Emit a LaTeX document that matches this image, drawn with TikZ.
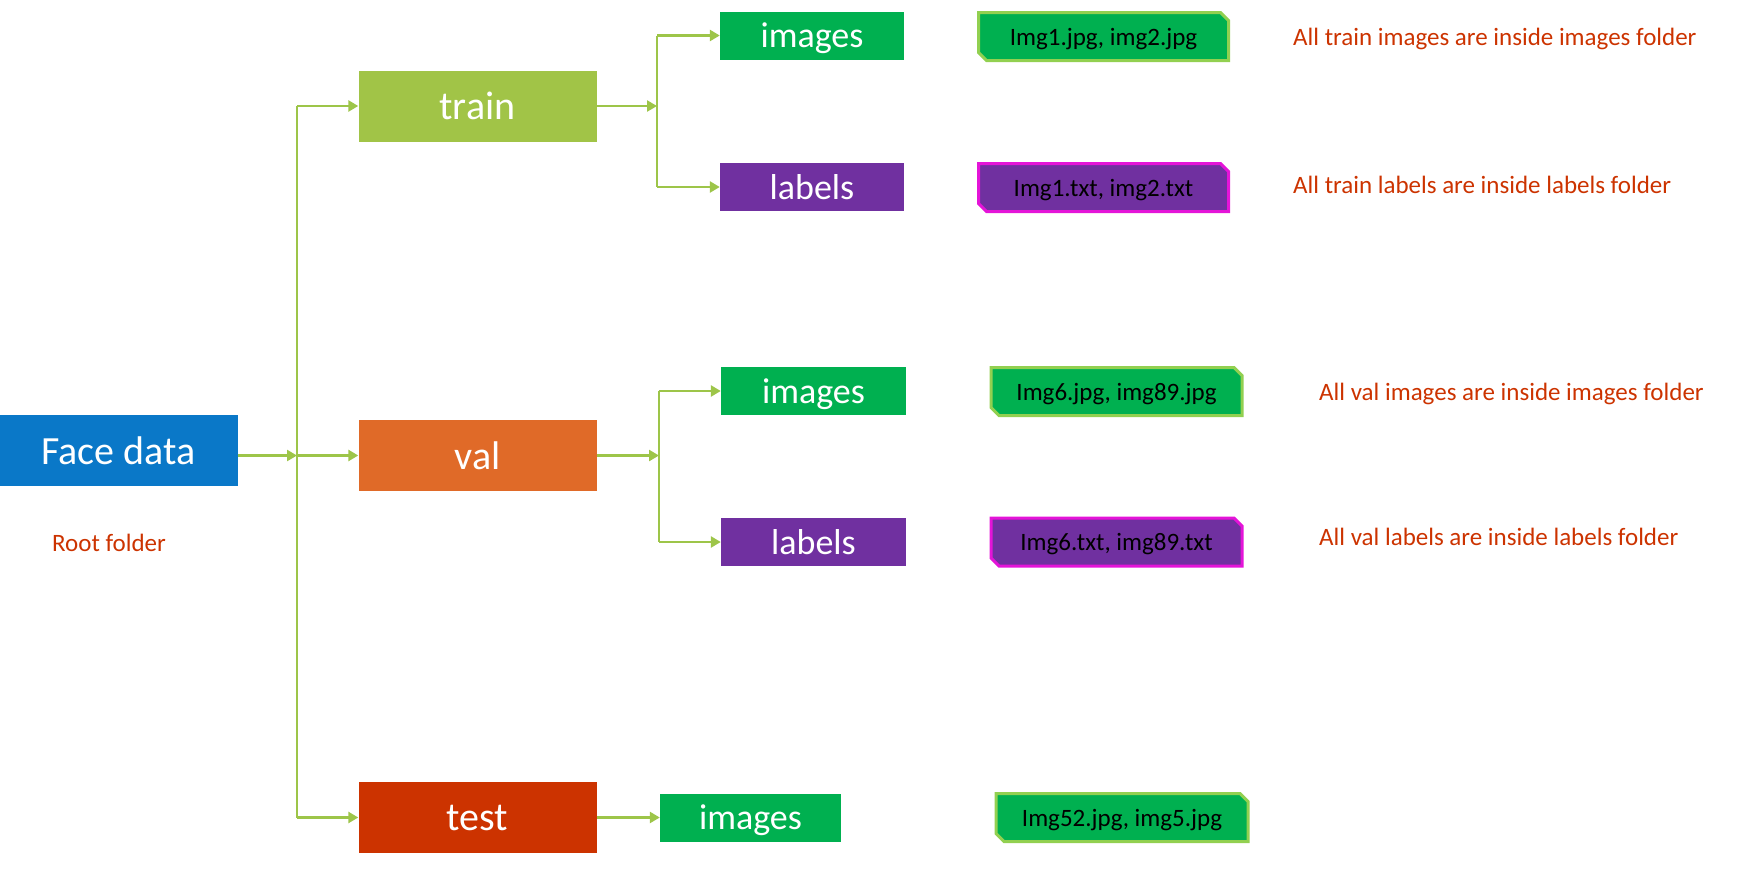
\documentclass[tikz,border=0pt]{standalone}
\usepackage{fontspec}
\setmainfont{Carlito}
\usetikzlibrary{arrows.meta,shapes.misc}
\definecolor{cblue}{HTML}{0A78C8}
\definecolor{ctrain}{HTML}{A1C447}
\definecolor{cval}{HTML}{E06A28}
\definecolor{ctest}{HTML}{CC3300}
\definecolor{cgreen}{HTML}{00B050}
\definecolor{cpurple}{HTML}{7030A0}
\definecolor{cgborder}{HTML}{92D050}
\definecolor{cpborder}{HTML}{E414D8}
\definecolor{cline}{HTML}{9DC549}
\definecolor{cnote}{HTML}{CC3300}
\begin{document}
\begin{tikzpicture}[x=1pt,y=-1pt,
  box/.style={rectangle, inner sep=0pt, text=white, text depth=0pt},
  bigbox/.style={box, minimum width=238pt, minimum height=71pt, font=\fontsize{40}{48}\selectfont},
  subbox/.style={box, minimum width=184pt, minimum height=48pt, font=\fontsize{36}{43}\selectfont},
  filebox/.style={chamfered rectangle, chamfered rectangle corners={north east,south west},
     chamfered rectangle sep=4pt, inner sep=0pt, minimum width=250pt, minimum height=48pt,
     line width=3pt, text=black, text depth=0pt, font=\fontsize{25}{30}\selectfont},
  gfile/.style={filebox, fill=cgreen, draw=cgborder},
  pfile/.style={filebox, fill=cpurple, draw=cpborder},
  note/.style={anchor=west, inner sep=0pt, text=cnote, text depth=0pt, font=\fontsize{25}{30}\selectfont},
  wire/.style={draw=cline, line width=2.5pt},
  arr/.style={wire, -{Triangle[length=10pt,width=11pt]}}
]
\useasboundingbox (0,0) rectangle (1742,868);

% main boxes
\node[bigbox, fill=cblue] (face) at (118.5,450.5) {Face data};
\node[note, anchor=center] (root) at (109,543) {Root folder};
\node[bigbox, fill=ctrain] (train) at (477.5,106) {train};
\node[bigbox, fill=cval] (val) at (477.5,455.5) {val};
\node[bigbox, fill=ctest] (test) at (477.5,817.5) {test};

% sub folders
\node[subbox, fill=cgreen] (timg) at (812,35.5) {images};
\node[subbox, fill=cpurple] (tlab) at (812,187) {labels};
\node[subbox, fill=cgreen, minimum width=185pt] (vimg) at (813.5,391) {images};
\node[subbox, fill=cpurple, minimum width=185pt] (vlab) at (813.5,542) {labels};
\node[subbox, fill=cgreen, minimum width=181pt] (simg) at (750.5,817.5) {images};

% files
\node[gfile] (tf1) at (1103.5,36.5) {Img1.jpg, img2.jpg};
\node[pfile] (tf2) at (1103.5,187.5) {Img1.txt, img2.txt};
\node[gfile, minimum width=251pt] (vf1) at (1116.5,391.5) {Img6.jpg, img89.jpg};
\node[pfile, minimum width=251pt] (vf2) at (1116.5,542) {Img6.txt, img89.txt};
\node[gfile, minimum width=252pt] (sf1) at (1122,817.5) {Img52.jpg, img5.jpg};

% notes
\node[note] (n1) at (1293,37) {All train images are inside images folder};
\node[note] (n2) at (1293,185) {All train labels are inside labels folder};
\node[note] (n3) at (1319,391.5) {All val images are inside images folder};
\node[note] (n4) at (1319,537) {All val labels are inside labels folder};

% connectors
\coordinate (trk) at (297,0);
\coordinate (bt) at (657,0);
\coordinate (bv) at (659,0);
\draw[wire] (trk |- train.west) -- (trk |- test.west);
\draw[arr] (face.east |- val.west) -- (trk |- val.west);
\draw[arr] (trk |- train.west) -- (train.west);
\draw[arr] (trk |- val.west) -- (val.west);
\draw[arr] (trk |- test.west) -- (test.west);

\draw[arr] (train.east) -- (bt |- train.east);
\draw[wire] (bt |- timg.west) -- (bt |- tlab.west);
\draw[arr] (bt |- timg.west) -- (timg.west);
\draw[arr] (bt |- tlab.west) -- (tlab.west);

\draw[arr] (val.east) -- (bv |- val.east);
\draw[wire] (bv |- vimg.west) -- (bv |- vlab.west);
\draw[arr] (bv |- vimg.west) -- (vimg.west);
\draw[arr] (bv |- vlab.west) -- (vlab.west);

\draw[arr] (test.east) -- (simg.west);
\end{tikzpicture}
\end{document}
